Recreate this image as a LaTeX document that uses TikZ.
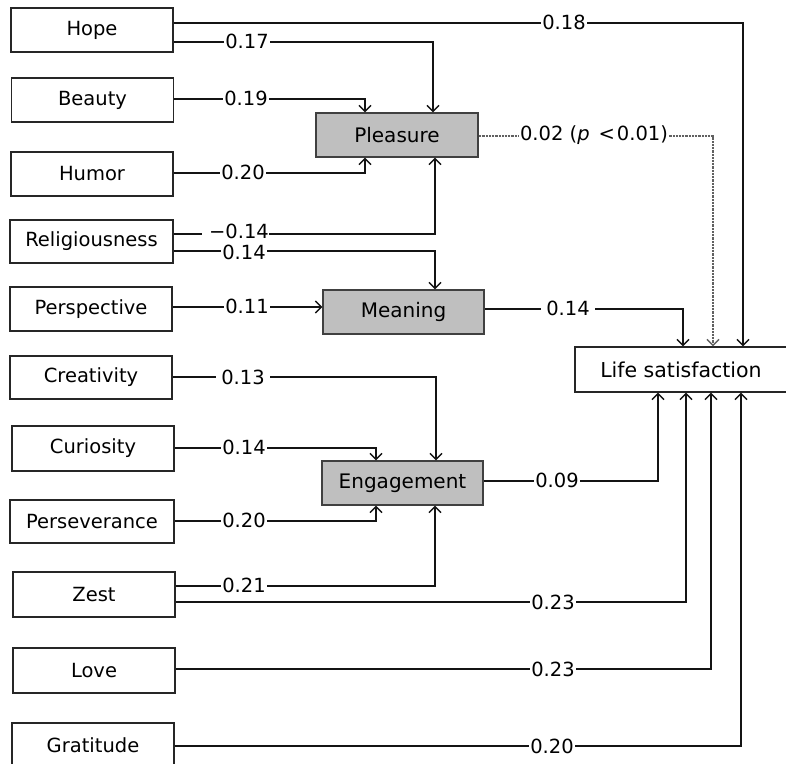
\documentclass[tikz,border=0pt]{standalone}
\usepackage{fontspec}
\setmainfont{DejaVu Sans}
\usetikzlibrary{arrows.meta}
\begin{document}
\begin{tikzpicture}[x=1pt,y=-1pt,
  trait/.style={draw=black!85, line width=1.2pt, minimum width=162pt, minimum height=44pt, inner sep=0pt, font=\fontsize{19.5}{22}\selectfont},
  medbox/.style={draw=black!75, fill=black!25, line width=1.2pt, minimum width=161pt, minimum height=44pt, inner sep=0pt, font=\fontsize{20}{23}\selectfont},
  lsbox/.style={draw=black!85, line width=1.2pt, minimum width=212pt, minimum height=45pt, inner sep=0pt, font=\fontsize{20.5}{24}\selectfont},
  conn/.style={line width=2pt, black!92, -{Straight Barb[length=6pt,width=12pt,line width=1.5pt]}},
  dotconn/.style={line width=2pt, black!62, dash pattern=on 1pt off 0.45pt, -{Straight Barb[length=6pt,width=12pt,line width=1.5pt]}},
  lbl/.style={fill=white, inner xsep=1.5pt, inner ysep=0pt, font=\fontsize{19.5}{22}\selectfont}
]
\useasboundingbox (0,0) rectangle (786,763);

% left trait boxes
\node[trait] (hope) at (92,30) {Hope};
\node[trait] (beauty) at (92.5,100) {Beauty};
\node[trait] (humor) at (92,174) {Humor};
\node[trait, minimum width=163pt, minimum height=43pt] (relig) at (91.5,241.5) {Religiousness};
\node[trait] (persp) at (91,309) {Perspective};
\node[trait, minimum height=43pt] (creat) at (91,377.5) {Creativity};
\node[trait, minimum height=45pt] (curio) at (93,448.5) {Curiosity};
\node[trait, minimum width=164pt, minimum height=43pt] (persev) at (92,521.5) {Perseverance};
\node[trait, minimum height=45pt] (zest) at (94,594.5) {Zest};
\node[trait, minimum height=45pt] (love) at (94,670.5) {Love};
\node[trait] (grat) at (93,745) {Gratitude};

% mediators and outcome
\node[medbox, minimum width=162pt] (pleas) at (397,135) {Pleasure};
\node[medbox] (mean) at (403.5,312) {Meaning};
\node[medbox] (eng) at (402.5,483) {Engagement};
\node[lsbox] (ls) at (681,369.5) {Life satisfaction};

% Hope
\draw[conn] (hope.east |- 0,23) -| (ls.north -| 743,0);
\node[lbl] (l018) at (564,22) {0.18};
\draw[conn] (hope.east |- 0,42) -| (pleas.north -| 433,0);
\node[lbl] (l017) at (247,41) {0.17};
% Beauty
\draw[conn] (beauty.east |- 0,99) -| (pleas.north -| 365,0);
\node[lbl] (l019) at (246,98) {0.19};
% Humor
\draw[conn] (humor.east |- 0,173) -| (pleas.south -| 365,0);
\node[lbl] (l020a) at (243,172) {0.20};
% Religiousness
\draw[conn] (relig.east |- 0,234) -| (pleas.south -| 435,0);
\node[lbl, inner xsep=0pt, text depth=0pt] (l014n) at (235.5,231.5) {\hspace{7pt}−0.14\hspace{2pt}};
\draw[conn] (relig.east |- 0,251) -| (mean.north -| 435,0);
\node[lbl, text depth=0pt] (l014a) at (244,252.5) {0.14};
% Perspective
\draw[conn] (persp.east |- 0,307) -- (mean.west |- 0,307);
\node[lbl] (l011) at (247,306) {0.11};
% Meaning -> LS
\draw[conn] (mean.east |- 0,309) -| (ls.north -| 683,0);
\node[lbl, inner xsep=5pt] (l014m) at (568,308) {0.14};
% Pleasure -> LS (dotted)
\draw[dotconn] (pleas.east |- 0,136) -| (ls.north -| 713,0);
\node[lbl] (l002) at (594,135) {0.02 (\textit{p}\hspace{9pt}<\hspace{2pt}0.01)};
% Creativity
\draw[conn] (creat.east |- 0,377) -| (eng.north -| 436,0);
\node[lbl, inner xsep=5pt] (l013) at (243,377) {0.13};
% Curiosity
\draw[conn] (curio.east |- 0,448) -| (eng.north -| 376,0);
\node[lbl] (l014c) at (244,447) {0.14};
% Engagement -> LS
\draw[conn] (eng.east |- 0,481) -| (ls.south -| 658,0);
\node[lbl] (l009) at (557,480) {0.09};
% Perseverance
\draw[conn] (persev.east |- 0,521) -| (eng.south -| 376,0);
\node[lbl] (l020b) at (244,520) {0.20};
% Zest
\draw[conn] (zest.east |- 0,586) -| (eng.south -| 435,0);
\node[lbl] (l021) at (244,585) {0.21};
\draw[conn] (zest.east |- 0,602) -| (ls.south -| 686,0);
\node[lbl] (l023a) at (553,602) {0.23};
% Love
\draw[conn] (love.east |- 0,669) -| (ls.south -| 711,0);
\node[lbl] (l023b) at (553,669) {0.23};
% Gratitude
\draw[conn] (grat.east |- 0,746) -| (ls.south -| 741,0);
\node[lbl] (l020c) at (552,746) {0.20};
\end{tikzpicture}
\end{document}
